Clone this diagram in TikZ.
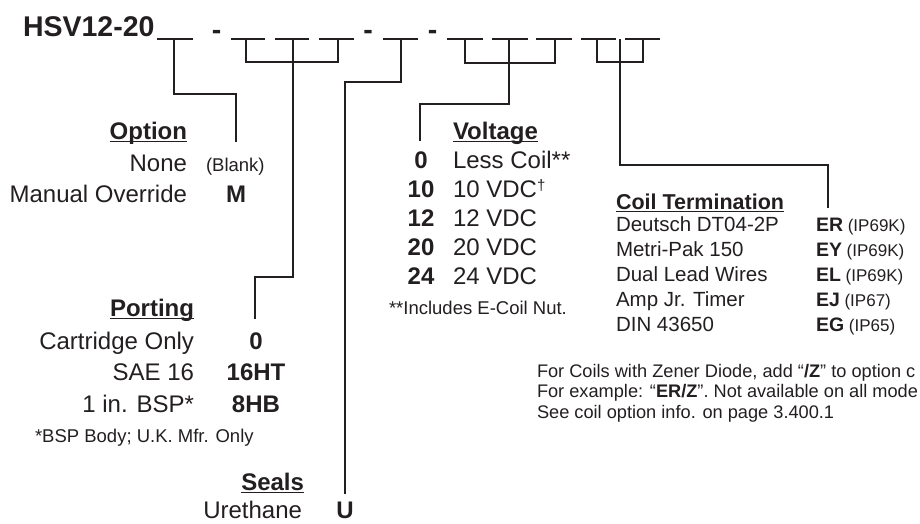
\documentclass[tikz,border=0pt]{standalone}
\usepackage{fontspec}
\setmainfont{Liberation Sans}
\definecolor{ink}{RGB}{35,31,32}
\newsavebox\ulbox
\newcommand\hdr[1]{\sbox\ulbox{\bfseries #1}\rlap{\rule[-3.2pt]{\wd\ulbox}{1.2pt}}\usebox\ulbox}
\tikzset{
  tbase/.style={inner sep=0pt, outer sep=0pt, text=ink},
  ttl/.style={tbase, font=\fontsize{28.5}{32}\selectfont\bfseries},
  lab/.style={tbase, font=\fontsize{24}{28}\selectfont},
  hd/.style={tbase, font=\fontsize{24}{28}\selectfont},
  codebx/.style={tbase, font=\fontsize{24}{28}\selectfont\bfseries, anchor=base},
  sm/.style={tbase, font=\fontsize{18.5}{21}\selectfont},
  nt/.style={tbase, font=\fontsize{18.2}{21}\selectfont},
  ctl/.style={tbase, font=\fontsize{20.5}{24}\selectfont},
  cth/.style={tbase, font=\fontsize{21.5}{24}\selectfont},
  ccd/.style={tbase, font=\fontsize{19.5}{24}\selectfont},
  wire/.style={draw=ink, line width=1.3pt},
  blank/.style={draw=ink, line width=1.3pt},
}
\begin{document}
\begin{tikzpicture}[x=1pt,y=-1pt]
\useasboundingbox (0,0) rectangle (920,523);
\clip (0,0) rectangle (920,523);

% model code
\node[ttl, anchor=base west] (title) at (23,36) {HSV12-20};
\node[ttl, anchor=base] (d1) at (216.5,39) {-};
\node[ttl, anchor=base] (d2) at (368,39) {-};
\node[ttl, anchor=base] (d3) at (432.5,39) {-};
\foreach \n/\a/\b in {1/157/193, 2/231/265, 3/275/309, 4/319/354, 5/383/418,
                      6/447/483, 7/492/528, 8/536/572, 9/581/616, 10/625/660}
  \draw[blank] (\a,39) coordinate (bl\n) -- (\b,39) coordinate (br\n);

% tick points and connector ends
\coordinate (t1) at (174,39);  \coordinate (e1) at (236,142);
\coordinate (t2) at (246,39);  \coordinate (t3) at (293,39);  \coordinate (t4) at (338,39);
\coordinate (e2) at (255,319);
\coordinate (t5) at (401,39);  \coordinate (e3) at (345,494);
\coordinate (t6) at (465,39);  \coordinate (t7) at (509,39);  \coordinate (t8) at (555,39);
\coordinate (e4) at (420,141);
\coordinate (t9) at (597,39);  \coordinate (tc) at (620,39);  \coordinate (t10) at (643,39);
\coordinate (e5) at (828,208);

\draw[wire] (t1) -- ++(0,55) -| (e1);
\draw[wire] (t2) -- ++(0,23) -| (t4);
\draw[wire] (t3) -- ++(0,238) -| (e2);
\draw[wire] (t5) -- ++(0,43) -| (e3);
\draw[wire] (t6) -- ++(0,24) -| (t8);
\draw[wire] (t7) -- ++(0,65) -| (e4);
\draw[wire] (t9) -- ++(0,23) -| (t10);
\draw[wire] (tc) -- ++(0,126) -| (e5);

% Option
\node[hd, anchor=base east] (opth) at (187,139) {\hdr{Option}};
\node[lab, anchor=base east] (opt1) at (187,171) {None};
\node[sm, anchor=base west] (optc1) at (206,171) {(Blank)};
\node[lab, anchor=base east] (opt2) at (187,202) {Manual Override};
\node[codebx] (optc2) at (236,202) {M};

% Porting
\node[hd, anchor=base east] (porth) at (194,316) {\hdr{Porting}};
\node[lab, anchor=base east] (por1) at (194,349) {Cartridge Only};
\node[codebx] (porc1) at (256,349) {0};
\node[lab, anchor=base east] (por2) at (194,380) {SAE 16};
\node[codebx] (porc2) at (256,380) {16HT};
\node[lab, anchor=base east] (por3) at (194,412) {1 in. BSP*};
\node[codebx] (porc3) at (256,412) {8HB};
\node[sm, anchor=base west] (porn) at (35,442) {*BSP Body; U.K. Mfr. Only};

% Seals
\node[hd, anchor=base east] (sealh) at (304,490) {\hdr{Seals}};
\node[lab, anchor=base east] (seal1) at (302,518) {Urethane};
\node[codebx] (sealc1) at (345,518) {U};

% Voltage
\node[hd, anchor=base west] (volh) at (453,139) {\hdr{Voltage}};
\node[codebx] (volc1) at (421,168) {0};
\node[lab, anchor=base west] (vol1) at (453,168) {Less Coil**};
\node[codebx] (volc2) at (421,197) {10};
\node[lab, anchor=base west] (vol2) at (453,197) {10 VDC{\fontsize{15}{18}\selectfont\raisebox{7pt}{†}}};
\node[codebx] (volc3) at (421,226.5) {12};
\node[lab, anchor=base west] (vol3) at (453,226.5) {12 VDC};
\node[codebx] (volc4) at (421,255.5) {20};
\node[lab, anchor=base west] (vol4) at (453,255.5) {20 VDC};
\node[codebx] (volc5) at (421,284.5) {24};
\node[lab, anchor=base west] (vol5) at (453,284.5) {24 VDC};
\node[sm, anchor=base west] (voln) at (389,314) {**Includes E-Coil Nut.};

% Coil Termination
\node[cth, anchor=base west] (coilh) at (616,209) {\hdr{Coil Termination}};
\foreach \n/\y/\d/\c/\p in {1/231.7/Deutsch DT04-2P/ER/IP69K,
                            2/256.7/Metri-Pak 150/EY/IP69K,
                            3/281.7/Dual Lead Wires/EL/IP69K,
                            4/306.7/Amp Jr. Timer/EJ/IP67,
                            5/331.7/DIN 43650/EG/IP65}{
  \node[ctl, anchor=base west] (coil\n) at (616,\y) {\d};
  \node[ccd, anchor=base west] (coilc\n) at (816,\y) {\textbf{\c}{\fontsize{17}{20}\selectfont\ (\p)}};
}

% Notes
\node[nt, anchor=base west] (note1) at (537,377) {For Coils with Zener Diode, add “\textbf{/Z}” to option c};
\node[nt, anchor=base west] (note2) at (537,397.5) {For example: “\textbf{ER/Z}”. Not available on all mode};
\node[nt, anchor=base west] (note3) at (537,418) {See coil option info. on page 3.400.1};
\end{tikzpicture}
\end{document}
